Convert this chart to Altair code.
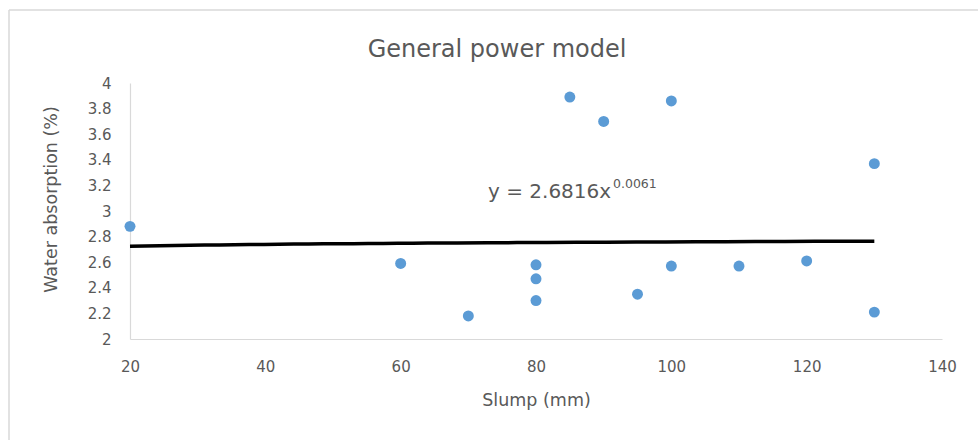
import altair as alt
import pandas as pd

# Data
slump = [20, 60, 70, 80, 80, 80, 85, 90, 95, 100, 100, 110, 120, 130, 130]
water = [2.88, 2.59, 2.18, 2.58, 2.47, 2.30, 3.89, 3.70, 2.35, 3.86, 2.57, 2.57, 2.61, 3.37, 2.21]
x_ticks = [20, 40, 60, 80, 100, 120, 140]
y_ticks = [2.0, 2.2, 2.4, 2.6, 2.8, 3.0, 3.2, 3.4, 3.6, 3.8, 4.0]
chart_title = ["General power model"]
equation_main = ["y = 2.6816x"]
equation_exp = ["0.0061"]

df = pd.DataFrame({"slump": slump, "water": water})

FONT = "DejaVu Sans"
GREY = "#595959"

x_enc = alt.X("slump:Q", title="Slump (mm)",
              scale=alt.Scale(domain=[20, 140], nice=False, zero=False),
              axis=alt.Axis(values=x_ticks, format="d", labelPadding=20,
                            labelFlush=False, labelOverlap=False,
                            titlePadding=17))
y_enc = alt.Y("water:Q", title="Water absorption (%)",
              scale=alt.Scale(domain=[2, 4], nice=False, zero=False),
              axis=alt.Axis(values=y_ticks, format=".1~f", labelPadding=19,
                            labelFlush=False, labelOverlap=False,
                            titleX=-70, titleY=116, titleBaseline="bottom"))

points = alt.Chart(df).mark_circle(size=120, opacity=1, color="#5B9BD5").encode(
    x=x_enc, y=y_enc
)

trend = alt.Chart(df).transform_regression(
    "slump", "water", method="pow"
).mark_line(color="#000000", strokeWidth=3.5).encode(
    x=x_enc, y=y_enc
)

title_mark = alt.Chart(pd.DataFrame({"t": chart_title})).mark_text(
    align="center", baseline="alphabetic", fontSize=24, font=FONT, color=GREY
).encode(text="t:N", x=alt.value(367), y=alt.value(-26))

eq1 = alt.Chart(pd.DataFrame({"t": equation_main})).mark_text(
    align="left", baseline="alphabetic", fontSize=20, font=FONT, color=GREY
).encode(text="t:N", x=alt.value(358), y=alt.value(115))

eq2 = alt.Chart(pd.DataFrame({"t": equation_exp})).mark_text(
    align="left", baseline="alphabetic", fontSize=12.5, font=FONT, color=GREY
).encode(text="t:N", x=alt.value(483), y=alt.value(105))

border_left = alt.Chart(pd.DataFrame({"t": [0]})).mark_rule(
    color="#d9d9d9", strokeWidth=1.5
).encode(x=alt.value(-121), y=alt.value(-73), y2=alt.value(370))

border_top = alt.Chart(pd.DataFrame({"t": [0]})).mark_rule(
    color="#d9d9d9", strokeWidth=1.5
).encode(x=alt.value(-121), x2=alt.value(860), y=alt.value(-73))

chart = alt.layer(points, trend, border_left, border_top, eq1, eq2, title_mark).properties(
    width=812,
    height=256,
    autosize=alt.AutoSizeParams(type="none"),
    padding={"left": 130, "top": 83, "right": 36, "bottom": 101},
).configure_view(
    stroke=None
).configure_axis(
    grid=False, ticks=False, domainColor="#d9d9d9", domainWidth=1.2,
    labelColor=GREY, titleColor=GREY, labelFont=FONT, titleFont=FONT,
    labelFontSize=15, titleFontSize=17.5, titleFontWeight="normal"
)

chart.save("out.html", embed_options={"renderer": "svg", "actions": False})
